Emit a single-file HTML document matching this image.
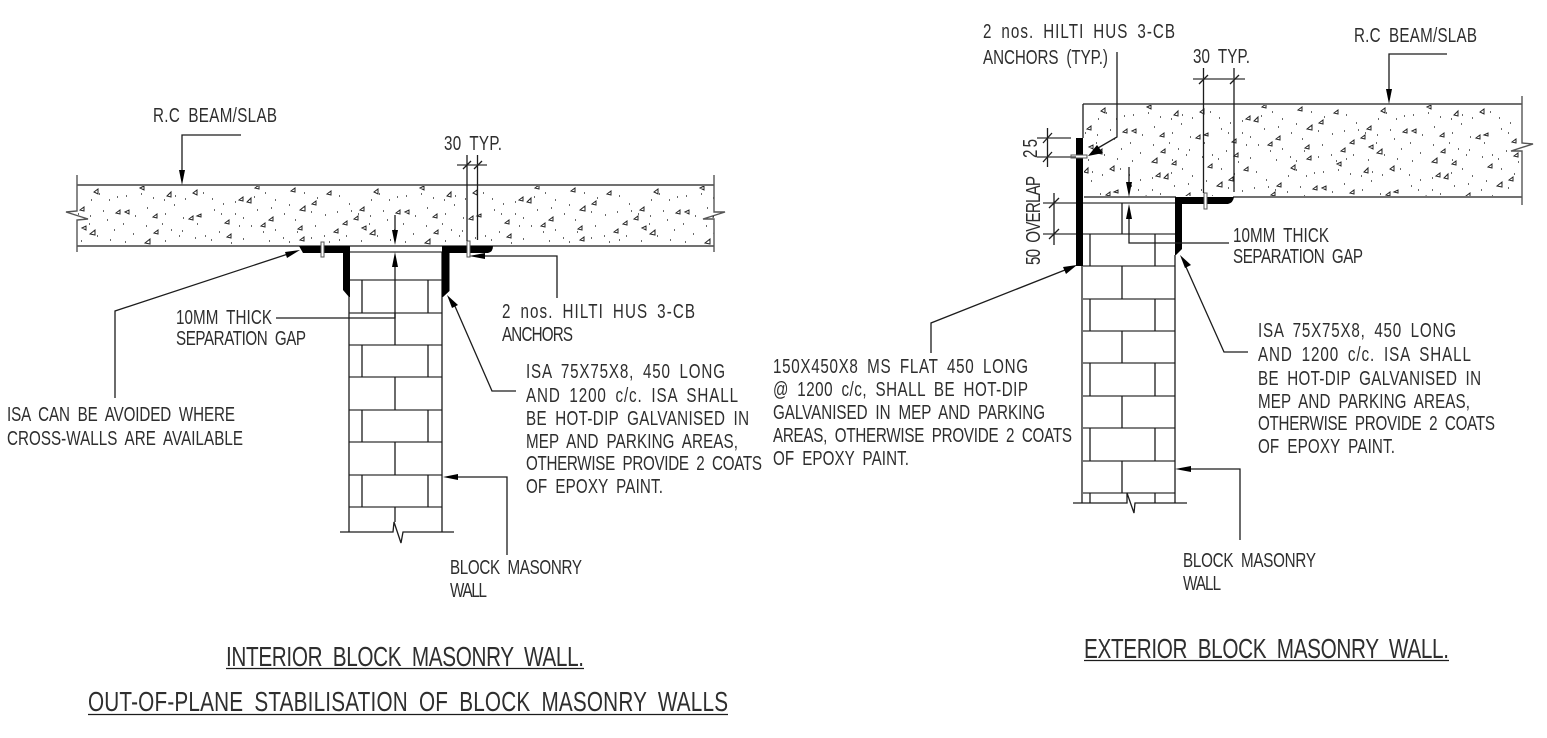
<!DOCTYPE html>
<html><head><meta charset="utf-8"><style>
html,body{margin:0;padding:0;background:#fff;width:1547px;height:738px;overflow:hidden}
svg{display:block}
.l{fill:none;stroke:#1c1c1c;stroke-width:1.3}
.g{fill:none;stroke:#555;stroke-width:1.4}
text{font-family:"Liberation Sans",sans-serif;font-size:20.5px;fill:#2e2e2e;word-spacing:5px}
.t{font-size:28px;word-spacing:7px}
</style></head><body>
<svg width="1547" height="738" viewBox="0 0 1547 738" xmlns="http://www.w3.org/2000/svg">
<defs>
<clipPath id="c1"><rect x="78" y="186" width="636" height="59"/></clipPath>
<clipPath id="c2"><rect x="1084" y="105" width="437" height="91"/></clipPath>
<g id="agg">
<path fill="none" stroke="#222" stroke-width="1" d="M95 192l4-3v5zM141 188l4-2v4zM168 196l4-4v5zM194 193l4-3v5zM256 188l4-3v4zM240 200l4-3v4zM248 202l4-4v5zM292 191l4-3v4zM328 194l4-3v4zM313 204l4-3v4zM301 210l5-4v5zM81 210l4-3v4zM117 213l4-3v4zM126 212l4-2v4zM154 217l4-3v4zM190 219l4-3v4zM198 216l4-2v3zM226 223l4-3v4zM270 220l4-3v4zM262 226l4-3v4zM299 229l4-3v4zM344 224l4-3v4zM355 219l4-3v4zM335 232l4-3v4zM83 228l4-2v4zM91 234l5-4v5zM155 233l4-3v4zM228 237l4-3v4zM146 243l5-4v5zM301 240l4-3v4z"/>
<path fill="none" stroke="#111" stroke-width="1.2" d="M100 194h1M110 200h1M92 200h1M118 197h1M127 196h1M142 194h1M154 198h1M165 200h1M176 196h1M186 199h1M204 193h1M213 199h1M224 204h1M236 202h1M255 197h1M266 193h1M276 200h1M290 205h1M305 193h1M318 198h1M340 196h1M350 204h1M79 214h1M91 216h1M104 211h1M108 220h1M136 216h1M148 208h1M166 214h1M175 205h1M184 218h1M215 210h1M222 214h1M236 214h1M244 218h1M258 210h1M272 208h1M285 214h1M296 220h1M312 212h1M326 215h1M338 212h1M352 211h1M90 224h1M98 236h1M115 230h1M124 224h1M134 234h1M147 226h1M163 224h1M172 230h1M183 231h1M198 224h1M206 236h1M220 232h1M240 226h1M252 226h1M264 232h1M276 230h1M284 238h1M298 232h1M316 226h1M325 236h1M347 236h1M82 241h1M111 240h1M126 242h1M166 241h1M180 236h1M196 238h1M212 240h1M232 243h1M244 239h1M270 241h1M290 242h1M312 238h1M330 242h1M340 240h1"/>
</g>
</defs>
<rect width="1547" height="738" fill="#fff"/>

<!-- aggregates -->
<g clip-path="url(#c1)">
<use href="#agg" x="-1"/><use href="#agg" x="279"/><use href="#agg" x="559"/>
</g>
<g clip-path="url(#c2)">
<use href="#agg" transform="translate(1006,-81)"/><use href="#agg" transform="translate(1286,-81)"/>
<use href="#agg" transform="translate(916,-24)"/><use href="#agg" transform="translate(1196,-24)"/>
</g>

<!-- LEFT DETAIL: slab -->
<path class="l" d="M77 185H714M77 246H714"/>
<path class="g" d="M77 175V211L66 212L88 219L77 220V252M714 175V212L725 212L703 219L714 219V252"/>
<!-- LEFT wall -->
<path class="g" d="M350 252H442M349 280H442M349 313H442M349 345H442M349 377H442M349 410H442M349 442H442M349 475H442M349 507H442"/>
<path class="l" d="M349 252V532M442 252V532M362 280V313M428 280V313M395 313V345M362 345V377M428 345V377M395 377V410M362 410V442M428 410V442M395 442V475M362 475V507M428 475V507M395 507V522"/>
<path class="l" d="M340 532H393L394 522L401 543L403 532H454"/>
<!-- LEFT angles -->
<path fill="#000" d="M299 246L303 253H343V290L349 297H350V246Z"/>
<path fill="#000" d="M442 246V297H443L449.500 291V253H488Q493 252 493 246Z"/>
<rect x="321" y="242" width="3" height="15" fill="#fff" stroke="#555" stroke-width="1"/>
<rect x="467" y="241" width="3" height="16" fill="#fff" stroke="#555" stroke-width="1"/>
<!-- LEFT dims -->
<path class="l" d="M467 155V241M477.500 155V240"/>
<path class="g" d="M457 165H487"/>
<path class="l" d="M463 169L471 161M474 169L482 161"/>
<path class="l" d="M395 215V232M395 265V318H276"/>
<path fill="#000" d="M395 245L392 230H398ZM395 252L392 267H398Z"/>
<path class="l" d="M484 256H557V298"/>
<path fill="#000" d="M469 256L485 253V259Z"/>
<path class="l" d="M241 135H182V172"/>
<path fill="#000" d="M182 185L179 170H185Z"/>
<path class="l" d="M288 254L115 311V398"/>
<path fill="#000" d="M300 250L285 252L287 258Z"/>
<path class="l" d="M454 304L492 391H516"/>
<path fill="#000" d="M447 295L452 308L458 305Z"/>
<path class="l" d="M456 477H507V555"/>
<path fill="#000" d="M443 477L458 474V480Z"/>

<!-- LEFT text -->
<text transform="translate(153,122) scale(.74,1)" textLength="167.600" lengthAdjust="spacing">R.C BEAM/SLAB</text>
<text transform="translate(444,150) scale(.74,1)" textLength="78.400" lengthAdjust="spacing">30 TYP.</text>
<text transform="translate(176,324) scale(.74,1)" textLength="129.700" lengthAdjust="spacing">10MM THICK</text>
<text transform="translate(176,345) scale(.74,1)" textLength="175.700" lengthAdjust="spacing">SEPARATION GAP</text>
<text transform="translate(502,318) scale(.74,1)" textLength="260.800" lengthAdjust="spacing">2 nos. HILTI HUS 3-CB</text>
<text transform="translate(502,341) scale(.74,1)" textLength="95.900" lengthAdjust="spacing">ANCHORS</text>
<text transform="translate(526,378) scale(.74,1)" textLength="268.900" lengthAdjust="spacing">ISA 75X75X8, 450 LONG</text>
<text transform="translate(526,402) scale(.74,1)" textLength="286.500" lengthAdjust="spacing">AND 1200 c/c. ISA SHALL</text>
<text transform="translate(526,425) scale(.74,1)" textLength="301.400" lengthAdjust="spacing">BE HOT-DIP GALVANISED IN</text>
<text transform="translate(526,448) scale(.74,1)" textLength="286.500" lengthAdjust="spacing">MEP AND PARKING AREAS,</text>
<text transform="translate(526,470) scale(.74,1)" textLength="318.900" lengthAdjust="spacing">OTHERWISE PROVIDE 2 COATS</text>
<text transform="translate(526,493) scale(.74,1)" textLength="185.100" lengthAdjust="spacing">OF EPOXY PAINT.</text>
<text transform="translate(7,421) scale(.74,1)" textLength="308.100" lengthAdjust="spacing">ISA CAN BE AVOIDED WHERE</text>
<text transform="translate(7,445) scale(.74,1)" textLength="318.900" lengthAdjust="spacing">CROSS-WALLS ARE AVAILABLE</text>
<text transform="translate(450,574) scale(.74,1)" textLength="178.400" lengthAdjust="spacing">BLOCK MASONRY</text>
<text transform="translate(450,597) scale(.74,1)" textLength="50" lengthAdjust="spacing">WALL</text>
<text class="t" transform="translate(226,666) scale(.74,1)" textLength="483.800" lengthAdjust="spacing">INTERIOR BLOCK MASONRY WALL.</text>
<path class="l" d="M226 668.500H584"/>
<text class="t" transform="translate(88,711) scale(.74,1)" textLength="864.900" lengthAdjust="spacing">OUT-OF-PLANE STABILISATION OF BLOCK MASONRY WALLS</text>
<path class="l" d="M88 714.500H728"/>

<!-- RIGHT DETAIL: slab -->
<path class="l" d="M1083 104H1522M1084 197H1176M1233 197H1522M1083 104V138"/>
<path class="g" d="M1522 96V143L1533 144L1511 151L1522 151V205"/>
<!-- RIGHT wall -->
<path class="g" d="M1083 203H1176M1083 234H1175M1083 266H1175M1083 299H1175M1083 331H1175M1083 363H1175M1083 396H1175M1083 428H1175M1083 461H1175M1083 493H1175"/>
<path class="l" d="M1082 266V503M1175 255V503M1122 203V234M1090 234V266M1155 234V266M1122 266V299M1090 299V331M1155 299V331M1122 331V363M1090 363V396M1155 363V396M1122 396V428M1090 428V461M1155 428V461M1122 461V493M1090 493V503M1155 493V503"/>
<path class="l" d="M1073 503H1127V493L1134 513L1135 503H1187"/>
<!-- RIGHT plates -->
<rect x="1076" y="138" width="7" height="128" fill="#000"/>
<rect x="1071" y="155" width="16" height="3" fill="#fff" stroke="#555" stroke-width="1"/>
<path fill="#000" d="M1175 197V255H1176L1182 249V204H1228Q1233 203 1234 197Z"/>
<rect x="1204" y="193" width="3" height="16" fill="#fff" stroke="#555" stroke-width="1"/>
<!-- RIGHT dims -->
<path class="l" d="M1203.500 68V193M1234 68V192"/>
<path class="g" d="M1193 79H1245"/>
<path class="l" d="M1199 84L1208 75M1230 84L1239 75"/>
<path class="l" d="M1117 52V137L1098 148"/>
<path fill="#000" d="M1088 156L1097 145L1103 153Z"/>
<path class="l" d="M1047.500 128V167"/>
<path class="g" d="M1037 138H1071M1037 157H1076M1043 203H1076M1043 234H1076"/>
<path class="l" d="M1043 143L1052 133M1043 162L1052 152"/>
<path class="l" d="M1054 193V245M1049 208L1059 198M1049 239L1059 229"/>
<path class="l" d="M1129 167V184M1129 217V243H1229"/>
<path fill="#000" d="M1129 197L1126 182H1132ZM1129 204L1126 219H1132Z"/>
<path class="l" d="M1447 54H1389V91"/>
<path fill="#000" d="M1389 104L1386 89H1392Z"/>
<path class="l" d="M1186 267L1224 352H1248"/>
<path fill="#000" d="M1180 255L1185 268L1191 265Z"/>
<path class="l" d="M1189 469H1240V540"/>
<path fill="#000" d="M1175 469L1191 466V472Z"/>
<path class="l" d="M1065 270L931 323V353"/>
<path fill="#000" d="M1077 265L1063 267L1066 274Z"/>

<!-- RIGHT text -->
<text transform="translate(983,38) scale(.74,1)" textLength="259.500" lengthAdjust="spacing">2 nos. HILTI HUS 3-CB</text>
<text transform="translate(983,64) scale(.74,1)" textLength="168.900" lengthAdjust="spacing">ANCHORS (TYP.)</text>
<text transform="translate(1193,63) scale(.74,1)" textLength="77" lengthAdjust="spacing">30 TYP.</text>
<text transform="translate(1354,42) scale(.74,1)" textLength="166.200" lengthAdjust="spacing">R.C BEAM/SLAB</text>
<text transform="translate(1037,158) rotate(-90) scale(.74,1)" textLength="25.700" lengthAdjust="spacing">25</text>
<text transform="translate(1040,265) rotate(-90) scale(.74,1)" textLength="120.300" lengthAdjust="spacing">50 OVERLAP</text>
<text transform="translate(1233,242) scale(.74,1)" textLength="129.700" lengthAdjust="spacing">10MM THICK</text>
<text transform="translate(1233,263) scale(.74,1)" textLength="175.700" lengthAdjust="spacing">SEPARATION GAP</text>
<text transform="translate(1258,337) scale(.74,1)" textLength="267.600" lengthAdjust="spacing">ISA 75X75X8, 450 LONG</text>
<text transform="translate(1258,361) scale(.74,1)" textLength="287.800" lengthAdjust="spacing">AND 1200 c/c. ISA SHALL</text>
<text transform="translate(1258,385) scale(.74,1)" textLength="301.400" lengthAdjust="spacing">BE HOT-DIP GALVANISED IN</text>
<text transform="translate(1258,408) scale(.74,1)" textLength="286.500" lengthAdjust="spacing">MEP AND PARKING AREAS,</text>
<text transform="translate(1258,430) scale(.74,1)" textLength="320.300" lengthAdjust="spacing">OTHERWISE PROVIDE 2 COATS</text>
<text transform="translate(1258,453) scale(.74,1)" textLength="185.100" lengthAdjust="spacing">OF EPOXY PAINT.</text>
<text transform="translate(773,373) scale(.74,1)" textLength="344.600" lengthAdjust="spacing">150X450X8 MS FLAT 450 LONG</text>
<text transform="translate(773,396) scale(.74,1)" textLength="344.600" lengthAdjust="spacing">@ 1200 c/c, SHALL BE HOT-DIP</text>
<text transform="translate(773,419) scale(.74,1)" textLength="367.600" lengthAdjust="spacing">GALVANISED IN MEP AND PARKING</text>
<text transform="translate(773,442) scale(.74,1)" textLength="404" lengthAdjust="spacing">AREAS, OTHERWISE PROVIDE 2 COATS</text>
<text transform="translate(773,465) scale(.74,1)" textLength="183.800" lengthAdjust="spacing">OF EPOXY PAINT.</text>
<text transform="translate(1183,567) scale(.74,1)" textLength="179.700" lengthAdjust="spacing">BLOCK MASONRY</text>
<text transform="translate(1183,590) scale(.74,1)" textLength="51.400" lengthAdjust="spacing">WALL</text>
<text class="t" transform="translate(1084,658) scale(.74,1)" textLength="493.200" lengthAdjust="spacing">EXTERIOR BLOCK MASONRY WALL.</text>
<path class="l" d="M1084 660.500H1449"/>
</svg>
</body></html>
